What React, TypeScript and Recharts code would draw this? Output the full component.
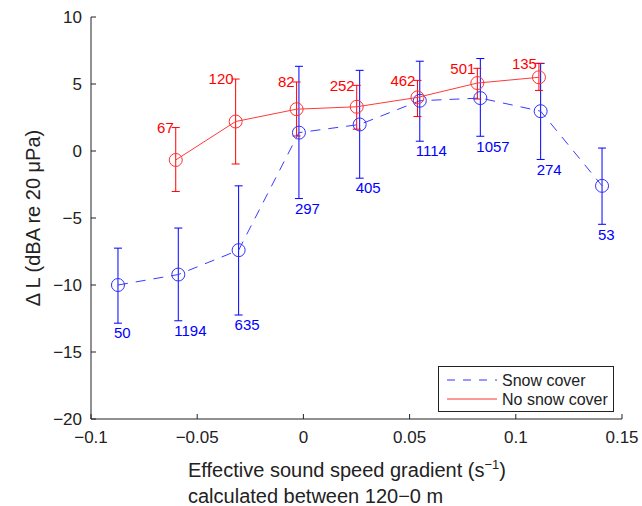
import { ScatterChart, Scatter, XAxis, YAxis, ErrorBar, Legend, Label } from "recharts";

// snow cover (blue, dashed)
const snowX = [-0.0873, -0.0589, -0.0305, -0.0021, 0.0265, 0.0548, 0.0833, 0.1117, 0.1406];
const snowY = [-10.0, -9.22, -7.4, 1.37, 1.98, 3.75, 3.95, 2.97, -2.6];
const snowLow = [-12.85, -12.67, -12.24, -3.55, -2.03, 0.73, 1.1, -0.63, -5.47];
const snowHigh = [-7.25, -5.75, -2.6, 6.32, 6.02, 6.7, 6.9, 6.54, 0.22];
const snowN = [50, 1194, 635, 297, 405, 1114, 1057, 274, 53];

// no snow cover (red, solid)
const noSnowX = [-0.0601, -0.0319, -0.0032, 0.0251, 0.0537, 0.0819, 0.1109];
const noSnowY = [-0.67, 2.2, 3.12, 3.3, 4.0, 5.07, 5.5];
const noSnowLow = [-3.02, -0.97, 1.12, 1.63, 2.57, 3.88, 4.52];
const noSnowHigh = [1.75, 5.37, 5.15, 4.9, 5.27, 6.17, 6.54];
const noSnowN = [67, 120, 82, 252, 462, 501, 135];

const xTicks = [-0.1, -0.05, 0, 0.05, 0.1, 0.15];
const yTicks = [10, 5, 0, -5, -10, -15, -20];
const legendOrder = ["Snow cover", "No snow cover"];

const snowData = snowX.map((x, i) => ({
  x,
  y: snowY[i],
  err: [snowY[i] - snowLow[i], snowHigh[i] - snowY[i]],
}));
const noSnowData = noSnowX.map((x, i) => ({
  x,
  y: noSnowY[i],
  err: [noSnowY[i] - noSnowLow[i], noSnowHigh[i] - noSnowY[i]],
}));
// count labels sit under the blue bars and above the red ones
const snowLabels = snowX.map((x, i) => ({ x, y: snowLow[i], n: snowN[i] }));
const noSnowLabels = noSnowX.map((x, i) => ({ x, y: noSnowHigh[i], n: noSnowN[i] }));

const BLUE = "#0000ff";
const RED = "#ff0000";
const AXIS = "#222";
const FONT = "'Liberation Sans', Arial, sans-serif";

const fmt = (v: number) => {
  if (v === 0) return "0";
  const s = String(Math.round(Math.abs(v) * 100) / 100);
  return v < 0 ? "\u2212" + s : s;
};

const BottomTick = (p: any) => (
  <g>
    <line x1={p.x} x2={p.x} y1={p.y - 12} y2={p.y - 17} stroke={AXIS} />
    <text x={p.x} y={p.y} dy="0.71em" textAnchor="middle" fontSize={17} fill={AXIS} fontFamily={FONT}>
      {fmt(p.payload.value)}
    </text>
  </g>
);
const TopTick = (p: any) => <line x1={p.x} x2={p.x} y1={p.y} y2={p.y + 5} stroke={AXIS} />;
const LeftTick = (p: any) => (
  <g>
    <line x1={p.x + 9} x2={p.x + 14} y1={p.y} y2={p.y} stroke={AXIS} />
    <text x={p.x} y={p.y} dy="0.35em" textAnchor="end" fontSize={17} fill={AXIS} fontFamily={FONT}>
      {fmt(p.payload.value)}
    </text>
  </g>
);
const RightTick = (p: any) => <line x1={p.x} x2={p.x - 5} y1={p.y} y2={p.y} stroke={AXIS} />;

const XTitle = (p: any) => {
  const vb = p.viewBox;
  const x0 = vb.x + 97;
  return (
    <g fontFamily={FONT} fill={AXIS} fontSize={20}>
      <text x={x0} y={vb.y + 58}>
        Effective sound speed gradient (s
        <tspan fontSize={13} dy={-8}>{"\u22121"}</tspan>
        <tspan dy={8}>)</tspan>
      </text>
      <text x={x0} y={vb.y + 84}>calculated between 120{"\u2212"}0 m</text>
    </g>
  );
};

const YTitle = (p: any) => {
  const vb = p.viewBox;
  const cy = vb.y + vb.height / 2;
  return (
    <text
      x={40}
      y={cy}
      transform={`rotate(-90 40 ${cy})`}
      textAnchor="middle"
      fontSize={20}
      fill={AXIS}
      fontFamily={FONT}
    >
      {"\u0394 L (dBA re 20 \u03bcPa)"}
    </text>
  );
};

const Circle = (color: string) => (p: any) =>
  <circle cx={p.cx} cy={p.cy} r={6.5} fill="none" stroke={color} strokeWidth={1} />;

const LegendBox = (props: any) => {
  const items = (props.payload || [])
    .filter((e: any) => legendOrder.includes(e.value))
    .sort((a: any, b: any) => legendOrder.indexOf(a.value) - legendOrder.indexOf(b.value));
  return (
    <svg width={176} height={46} style={{ display: "block" }}>
      <rect x={0.5} y={0.5} width={175} height={45} fill="#fff" stroke={AXIS} />
      {items.map((e: any, i: number) => (
        <g key={e.value}>
          <line
            x1={9}
            x2={59}
            y1={14 + i * 19}
            y2={14 + i * 19}
            stroke={e.color}
            strokeDasharray={e.value === "Snow cover" ? "8 8" : undefined}
          />
          <text x={64} y={14 + i * 19} dy="0.35em" fontSize={16} fill={AXIS} fontFamily={FONT}>
            {e.value}
          </text>
        </g>
      ))}
    </svg>
  );
};

export default function App() {
  return (
    <div style={{ position: "absolute", left: 0, top: 0, background: "#fff" }}>
      <ScatterChart width={642} height={506} margin={{ top: 17, right: 20, bottom: 0, left: 0 }}>
        <XAxis
          type="number"
          dataKey="x"
          domain={[-0.1, 0.15]}
          ticks={xTicks}
          allowDataOverflow
          height={87}
          tickSize={0}
          tickMargin={12}
          tickLine={false}
          stroke={AXIS}
          tick={BottomTick}
          interval={0}
        >
          <Label content={XTitle} />
        </XAxis>
        <XAxis
          xAxisId="top"
          orientation="top"
          type="number"
          dataKey="x"
          domain={[-0.1, 0.15]}
          ticks={xTicks}
          allowDataOverflow
          height={0}
          tickSize={0}
          tickMargin={0}
          tickLine={false}
          stroke={AXIS}
          tick={TopTick}
          interval={0}
        />
        <YAxis
          type="number"
          dataKey="y"
          domain={[-20, 10]}
          ticks={yTicks}
          allowDataOverflow
          width={91}
          tickSize={0}
          tickMargin={9}
          tickLine={false}
          stroke={AXIS}
          tick={LeftTick}
          interval={0}
        >
          <Label content={YTitle} />
        </YAxis>
        <YAxis
          yAxisId="right"
          orientation="right"
          type="number"
          dataKey="y"
          domain={[-20, 10]}
          ticks={yTicks}
          allowDataOverflow
          width={0}
          tickSize={0}
          tickMargin={0}
          tickLine={false}
          stroke={AXIS}
          tick={RightTick}
          interval={0}
        />
        <Legend
          layout="vertical"
          align="center"
          verticalAlign="middle"
          content={LegendBox}
          wrapperStyle={{ position: "absolute", left: 438, top: 366, width: 176, height: 46 }}
        />
        <Scatter
          name="Snow cover"
          data={snowData}
          fill="#3030ff"
          stroke="#3030ff"
          line={{ stroke: "#3a3aff", strokeWidth: 1, strokeDasharray: "10 8" }}
          lineType="joint"
          shape={Circle("#3030ff")}
          isAnimationActive={false}
        >
          <ErrorBar dataKey="err" direction="y" width={4} stroke={BLUE} strokeWidth={1} />
        </Scatter>
        <Scatter
          name="No snow cover"
          data={noSnowData}
          fill="#ff3030"
          stroke="#ff3030"
          line={{ stroke: "#ff3a3a", strokeWidth: 1 }}
          lineType="joint"
          shape={Circle("#ff3030")}
          isAnimationActive={false}
        >
          <ErrorBar dataKey="err" direction="y" width={4} stroke={RED} strokeWidth={1} />
        </Scatter>
        <Scatter
          name="snow-n"
          data={snowLabels}
          legendType="none"
          isAnimationActive={false}
          shape={(p: any) => (
            <text x={p.cx - 4} y={p.cy + 10} dy="0.35em" fontSize={15} fill={BLUE} fontFamily={FONT}>
              {p.payload.n}
            </text>
          )}
        />
        <Scatter
          name="nosnow-n"
          data={noSnowLabels}
          legendType="none"
          isAnimationActive={false}
          shape={(p: any) => (
            <text x={p.cx - 2} y={p.cy} dy="0.35em" textAnchor="end" fontSize={15} fill={RED} fontFamily={FONT}>
              {p.payload.n}
            </text>
          )}
        />
      </ScatterChart>
    </div>
  );
}
